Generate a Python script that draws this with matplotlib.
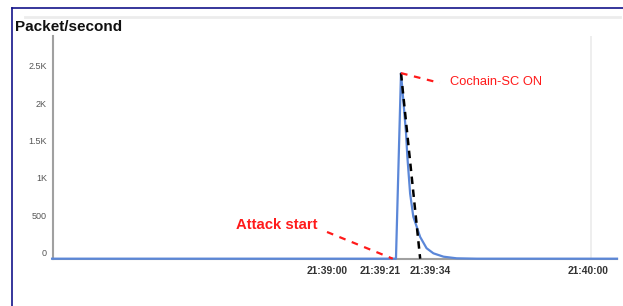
import matplotlib
matplotlib.use("Agg")
import matplotlib.pyplot as plt
import matplotlib.transforms as mtransforms
from matplotlib.lines import Line2D

plt.rcParams['font.family'] = ['Liberation Sans', 'DejaVu Sans']

# seconds after 21:38:00
t = [2.0, 77.3, 78.4, 78.9, 79.5, 79.8, 80.4, 81.1, 82.6, 84.0, 85.5, 87.7, 90.6, 95.0, 125.7]
pps = [0, 0, 2480, 2120, 1680, 1360, 870, 560, 290, 140, 72, 27, 5, 0, 0]

# black dashed line: from peak down to zero
cut_t = [78.4, 82.6]
cut_v = [2480, 0]

ytick_vals = [0, 500, 1000, 1500, 2000, 2500]
ytick_lbls = ['0', '500', '1K', '1.5K', '2K', '2.5K']
xtick_pos = [62.2, 73.8, 84.7, 119.3]
xtick_lbls = ['21:39:00', '21:39:21', '21:39:34', '21:40:00']

fig = plt.figure(figsize=(6.23, 3.06), dpi=100)
ax = fig.add_axes([53/623, (306-258.7)/306, (617-53)/623, (258.7-36)/306])

ax.axvline(120, color='#ebebeb', lw=1.2, zorder=0)
ax.plot(t, pps, color='#5b87d8', lw=1.6, clip_on=False, zorder=3)
ax.plot(cut_t, cut_v, color='black', lw=1.8, ls=(0, (3, 2.2)), zorder=4)

red = '#ff1a1a'
ax.plot([62.2, 76.6], [357, 0], color=red, lw=1.6, ls=(0, (3, 3)), clip_on=False, zorder=5)
ax.plot([78.4, 86.9], [2480, 2349], color=red, lw=1.6, ls=(0, (3, 3)), zorder=5)
ax.text(42.3, 450, 'Attack start', color=red, fontsize=10.7, fontweight='bold', va='center', ha='left')
ax.text(89.1, 2362, 'Cochain-SC ON', color=red, fontsize=9.3, va='center', ha='left')

ax.set_xlim(2.2, 125.7)
ax.set_ylim(0, 2976)
ax.set_yticks(ytick_vals)
ax.set_yticklabels(ytick_lbls)
ax.set_xticks(xtick_pos)
ax.set_xticklabels(xtick_lbls)
ax.tick_params(axis='y', length=0, pad=4.3, labelsize=6.5, labelcolor='#555555')
ax.tick_params(axis='x', length=0, pad=5, labelsize=7.4, labelcolor='#333333')
for lbl in ax.get_xticklabels():
    lbl.set_fontweight('bold')
off = mtransforms.ScaledTranslation(0, 6/100, fig.dpi_scale_trans)
for lbl in ax.get_yticklabels():
    lbl.set_transform(lbl.get_transform() + off)

for s in ['top', 'right']:
    ax.spines[s].set_visible(False)
ax.spines['left'].set_color('#a0a0a0')
ax.spines['left'].set_linewidth(1.5)
ax.spines['bottom'].set_color('#a0a0a0')
ax.spines['bottom'].set_linewidth(1.5)

fig.text(15/623, 1-27/306, 'Packet/second', fontsize=11, fontweight='bold', color='#111111', va='center', ha='left')

# screenshot frame
fig.add_artist(Line2D([11.5/623, 1], [1-8.3/306, 1-8.3/306], color='#14148a', lw=1.2))
fig.add_artist(Line2D([11.5/623, 11.5/623], [0, 1-8.3/306], color='#14148a', lw=1.2))
fig.add_artist(Line2D([25/623, 620/623], [1-16.7/306, 1-16.7/306], color='#ececec', lw=2))

fig.savefig('out.png', dpi=100)
